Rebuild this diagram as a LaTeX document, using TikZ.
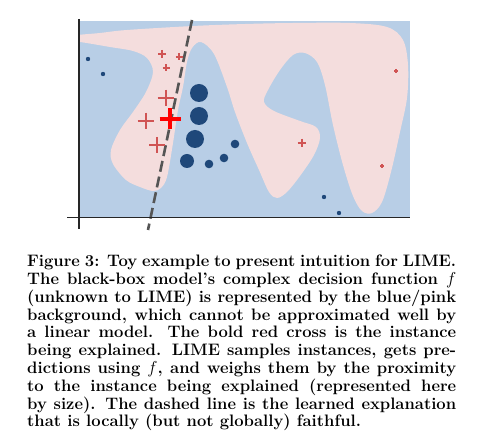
\documentclass[tikz,border=0pt]{standalone}
\usepackage{xcolor}
\definecolor{bluebg}{RGB}{184,206,230}
\definecolor{pinkbg}{RGB}{244,221,221}
\definecolor{navydot}{RGB}{31,72,122}
\definecolor{crossred}{RGB}{208,84,84}
\definecolor{dashgray}{RGB}{85,85,85}
\tikzset{
  dotmk/.style={circle, fill=navydot, inner sep=0pt, draw=none},
  crossline/.style={draw=crossred, line width=1.2pt},
  pics/crossmk/.style={code={\draw[crossline] (-#1,0)--(#1,0) (0,-#1)--(0,#1);}},
  pics/boldcross/.style={code={\draw[draw=red, line width=4pt] (-#1,0)--(#1,0) (0,-#1)--(0,#1);}},
  expline/.style={draw=dashgray, line width=2.6pt, dash pattern=on 11pt off 5pt},
  axisline/.style={draw=black!85, line width=1.1pt},
  captext/.style={anchor=base west, inner sep=0pt, text width=429pt, align=justify,
     font=\bfseries\fontsize{16.6}{17.8}\selectfont}
}
\begin{document}
\begin{tikzpicture}[x=1pt,y=-1pt]
\useasboundingbox (0,0) rectangle (480,443);
% background
\fill[bluebg] (80,21) rectangle (410,217);
\begin{scope}
\clip (80,21) rectangle (410,217);
\fill[pinkbg] plot[smooth cycle, tension=0.55] coordinates {
 (72,36) (100,33) (127,30) (193,26) (245,24) (293,23) (350,23) (387,27) (403,40)
 (408,65) (407,98) (400,132) (391,172) (382,202) (372,213) (362,211) (353,196) (343,165)
 (333,125) (325,85) (317,62) (305,53) (293,55) (280,70) (268,90) (264,102)
 (274,111) (300,121) (316,127) (320,138) (314,155) (300,176) (287,192) (277,198)
 (269,192) (259,170) (247,143) (235,112) (227,87) (214,54) (201,42) (192,48)
 (187,62) (183,87) (178,110) (173,143) (167,177) (161,188) (153,191) (140,187)
 (126,180) (113,164) (111,150) (120,130) (133,112) (146,92) (153,72) (147,58)
 (133,51) (110,47) (80,42) (72,42)};
\end{scope}
% explanation line
\coordinate (lt) at (192,20);
\coordinate (lb) at (148,230);
\draw[expline] (lt) -- (lb);
% dots
\node[dotmk, minimum size=18pt] (d1) at (199,93) {};
\node[dotmk, minimum size=18pt] (d2) at (199,116) {};
\node[dotmk, minimum size=18pt] (d3) at (195,139) {};
\node[dotmk, minimum size=14pt] (d4) at (187,161) {};
\node[dotmk, minimum size=8.6pt] (d5) at (209,164) {};
\node[dotmk, minimum size=8.6pt] (d6) at (224,158) {};
\node[dotmk, minimum size=8.6pt] (d7) at (235,144) {};
\node[dotmk, minimum size=4.4pt] (d8) at (88,59) {};
\node[dotmk, minimum size=4.4pt] (d9) at (103,74) {};
\node[dotmk, minimum size=4.4pt] (d10) at (324,197) {};
\node[dotmk, minimum size=4.4pt] (d11) at (339,213) {};
% crosses
\pic at (162,54) {crossmk=4};
\pic at (179,57) {crossmk=3.5};
\pic at (166,68) {crossmk=3.5};
\pic at (166,98) {crossmk=8.3};
\pic at (146,121) {crossmk=8.3};
\pic at (157,145) {crossmk=8};
\pic at (302,143) {crossmk=4.3};
\pic at (396,71) {crossmk=2};
\pic at (382,166) {crossmk=2};
\pic at (170,119) {boldcross=10.5};
% axes
\coordinate (ya) at (79,19);
\coordinate (yb) at (79,229);
\coordinate (xa) at (67,217.5);
\coordinate (xb) at (410,217.5);
\draw[axisline] (ya) -- (yb);
\draw[axisline] (xa) -- (xb);
% caption
\node[captext] (cap) at (27,266.7) {Figure 3: Toy example to present intuition for LIME.\linebreak
The black-box model's complex decision function $f$\linebreak
(unknown to LIME) is represented by the blue/pink\linebreak
background, which cannot be approximated well by\linebreak
a linear model. The bold red cross is the instance\linebreak
being explained. LIME samples instances, gets pre-\linebreak
dictions using $f$, and weighs them by the proximity\linebreak
to the instance being explained (represented here\linebreak
by size). The dashed line is the learned explanation\linebreak
that is locally (but not globally) faithful.};
\end{tikzpicture}
\end{document}
